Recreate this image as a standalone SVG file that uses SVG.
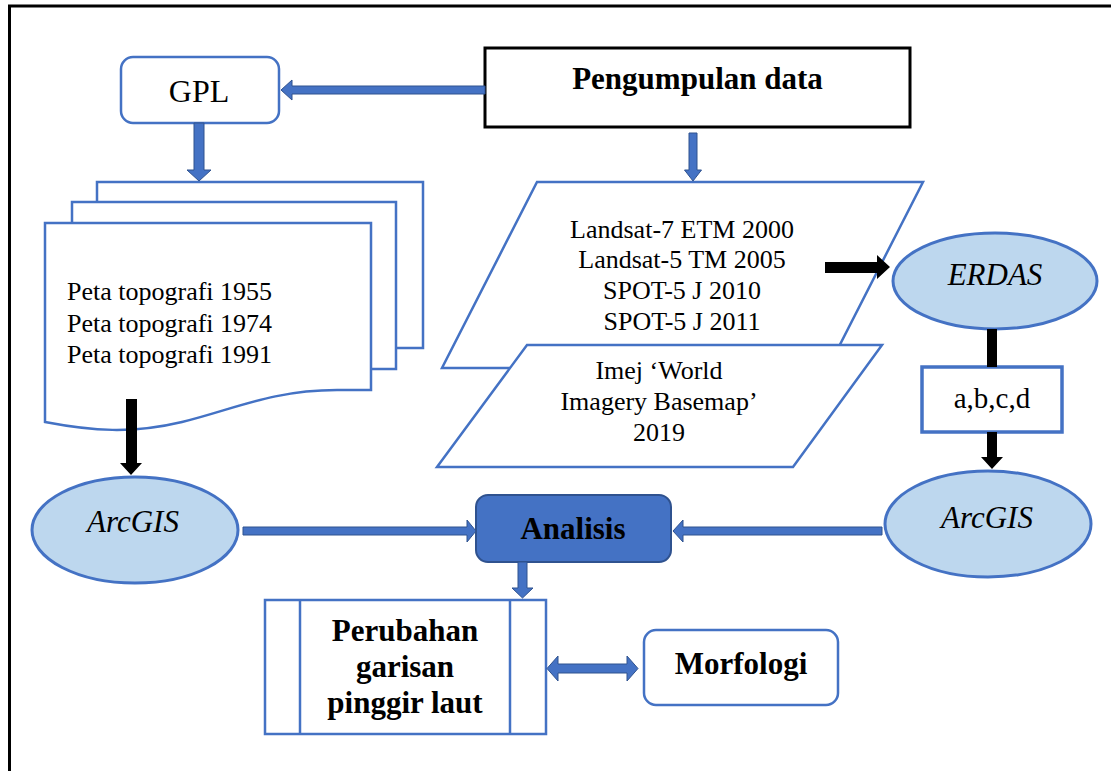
<svg xmlns="http://www.w3.org/2000/svg" width="1111" height="771" viewBox="0 0 1111 771">
<style>
.t{font-family:"Liberation Serif","Times New Roman",serif;fill:#000}
.b{font-weight:bold}
.i{font-style:italic}
.bl{fill:#fff;stroke:#4472C4;stroke-width:2.5}
.el{fill:#BDD7EE;stroke:#4472C4;stroke-width:3}
.ba{fill:#4472C4;stroke:#2F528F;stroke-width:1}
.ka{fill:#000}
</style>
<rect width="1111" height="771" fill="#fff"/>
<path d="M9.5,771 V6 H1111" fill="none" stroke="#000" stroke-width="3"/>

<g id="pengumpulan">
<rect x="485" y="48" width="425" height="79" fill="#fff" stroke="#000" stroke-width="3"/>
<text class="t b" x="697.5" y="89" font-size="31" text-anchor="middle">Pengumpulan data</text>
</g>

<g id="gpl">
<rect class="bl" x="121" y="57" width="158" height="66" rx="12"/>
<text class="t" x="199" y="102" font-size="32" text-anchor="middle">GPL</text>
</g>

<g id="peta">
<path class="bl" d="M97,182 H423 V348 H389 C324,348 284,368 234,380 C184,392 144,389 97,380 Z"/>
<path class="bl" d="M72,202 H396 V369 H362 C297,369 257,389 207,401 C157,413 117,410 72,401 Z"/>
<path class="bl" d="M45,223 H371 V390 H337 C272,390 232,410 182,422 C132,434 92,431 45,422 Z"/>
<text class="t" font-size="26"><tspan x="67" y="300">Peta topografi 1955</tspan><tspan x="67" y="332">Peta topografi 1974</tspan><tspan x="67" y="363">Peta topografi 1991</tspan></text>
</g>

<g id="satelit">
<polygon class="bl" points="537,182 923,182 828,368 442,368"/>
<text class="t" font-size="26" text-anchor="middle"><tspan x="682" y="238">Landsat-7 ETM 2000</tspan><tspan x="682" y="268">Landsat-5 TM 2005</tspan><tspan x="682" y="299">SPOT-5 J 2010</tspan><tspan x="682" y="330">SPOT-5 J 2011</tspan></text>
</g>

<g id="imej">
<polygon class="bl" points="527,345 882,345 793,467 437,467"/>
<text class="t" font-size="26" text-anchor="middle"><tspan x="659" y="379">Imej ‘World</tspan><tspan x="659" y="410">Imagery Basemap’</tspan><tspan x="659" y="441">2019</tspan></text>
</g>

<g id="erdas">
<ellipse class="el" cx="995" cy="281" rx="102" ry="48"/>
<text class="t i" x="995" y="285" font-size="31" text-anchor="middle">ERDAS</text>
</g>

<g id="abcd">
<rect x="922" y="367" width="140" height="65" fill="#fff" stroke="#4472C4" stroke-width="3.5"/>
<text class="t" x="992" y="408" font-size="29" text-anchor="middle">a,b,c,d</text>
</g>

<g id="arcgis-kanan">
<ellipse class="el" cx="988" cy="524" rx="103" ry="53"/>
<text class="t i" x="987" y="528" font-size="31" text-anchor="middle">ArcGIS</text>
</g>

<g id="arcgis-kiri">
<ellipse class="el" cx="135" cy="530" rx="103" ry="53"/>
<text class="t i" x="133" y="532" font-size="31" text-anchor="middle">ArcGIS</text>
</g>

<g id="analisis">
<rect x="476" y="495" width="195" height="67" rx="12" fill="#4472C4" stroke="#2F528F" stroke-width="2"/>
<text class="t b" x="573" y="539" font-size="31" text-anchor="middle">Analisis</text>
</g>

<g id="perubahan">
<rect class="bl" x="265" y="600" width="281" height="134"/>
<line x1="300" y1="600" x2="300" y2="734" stroke="#4472C4" stroke-width="2.5"/>
<line x1="510" y1="600" x2="510" y2="734" stroke="#4472C4" stroke-width="2.5"/>
<text class="t b" font-size="31" text-anchor="middle"><tspan x="405" y="641">Perubahan</tspan><tspan x="405" y="677">garisan</tspan><tspan x="405" y="713">pinggir laut</tspan></text>
</g>

<g id="morfologi">
<rect class="bl" x="644" y="630" width="194" height="75" rx="12" stroke-width="3"/>
<text class="t b" x="741" y="674" font-size="31" text-anchor="middle">Morfologi</text>
</g>

<g id="connectors">
<polygon class="ba" points="485,86 292,86 292,80 281,90 292,100 292,94 485,94"/>
<polygon class="ba" points="194,123 204,123 204,170 211,170 199,181 187,170 194,170"/>
<polygon class="ba" points="689,133 697,133 697,170 701.5,170 693,181 684.5,170 689,170"/>
<polygon class="ka" points="126,399 137,399 137,463 142,463 131,475 120,463 126,463"/>
<polygon class="ka" points="825,262 877,262 877,255 890,267 877,279 877,273 825,273"/>
<rect class="ka" x="987" y="329" width="10" height="38"/>
<polygon class="ka" points="987,432 997,432 997,457 1003,457 992,469 981,457 987,457"/>
<polygon class="ba" points="243,527 467,527 467,520 476,531 467,542 467,535 243,535"/>
<polygon class="ba" points="882,527 683,527 683,520 673,531 683,542 683,535 882,535"/>
<polygon class="ba" points="518,562 527,562 527,588 533,588 522.5,598 512,588 518,588"/>
<polygon class="ba" points="547,668.5 558,656 558,664 627,664 627,656 638,668.5 627,681 627,673 558,673 558,681"/>
</g>
</svg>
